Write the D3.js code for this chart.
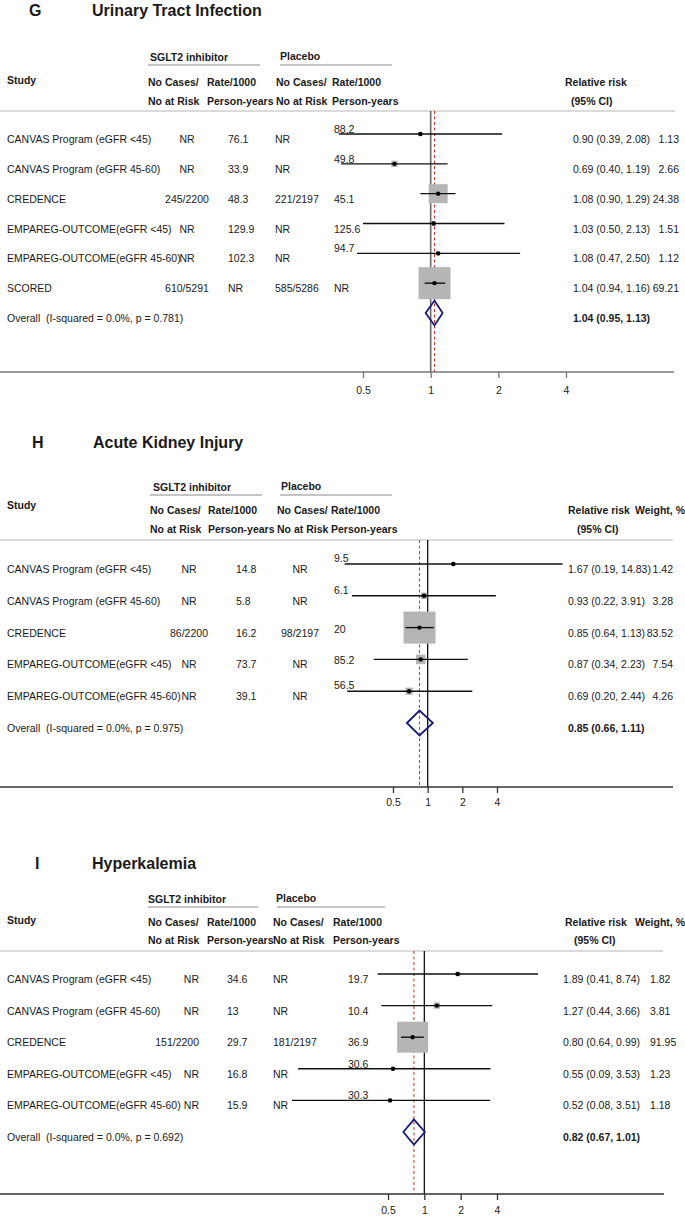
<!DOCTYPE html>
<html><head><meta charset="utf-8">
<script src="https://cdn.jsdelivr.net/npm/d3@7"></script>
<style>
html,body{margin:0;padding:0;background:#fff;}
svg text{font-family:"Liberation Sans",Arial,Helvetica,sans-serif;fill:#1a1a1a;white-space:pre;}
</style></head><body>
<svg id="chart" width="685" height="1217"></svg>
<script>
// ---------- DATA ----------
const tickValues = [0.5, 1, 2, 4];
const tickLabels = ["0.5", "1", "2", "4"];

const utiStudies = ["CANVAS Program (eGFR <45)", "CANVAS Program (eGFR 45-60)", "CREDENCE", "EMPAREG-OUTCOME(eGFR <45)", "EMPAREG-OUTCOME(eGFR 45-60)", "SCORED"];
const utiSglt2Cases = ["NR", "NR", "245/2200", "NR", "NR", "610/5291"];
const utiSglt2Rate = ["76.1", "33.9", "48.3", "129.9", "102.3", "NR"];
const utiPlaceboCases = ["NR", "NR", "221/2197", "NR", "NR", "585/5286"];
const utiPlaceboRate = ["88.2", "49.8", "45.1", "125.6", "94.7", "NR"];
const utiRR = [0.90, 0.69, 1.08, 1.03, 1.08, 1.04];
const utiLower = [0.39, 0.40, 0.90, 0.50, 0.47, 0.94];
const utiUpper = [2.08, 1.19, 1.29, 2.13, 2.50, 1.16];
const utiWeight = [1.13, 2.66, 24.38, 1.51, 1.12, 69.21];
const utiOverall = [1.04, 0.95, 1.13];
const utiHet = ["0.0%", "0.781"];

const akiStudies = ["CANVAS Program (eGFR <45)", "CANVAS Program (eGFR 45-60)", "CREDENCE", "EMPAREG-OUTCOME(eGFR <45)", "EMPAREG-OUTCOME(eGFR 45-60)"];
const akiSglt2Cases = ["NR", "NR", "86/2200", "NR", "NR"];
const akiSglt2Rate = ["14.8", "5.8", "16.2", "73.7", "39.1"];
const akiPlaceboCases = ["NR", "NR", "98/2197", "NR", "NR"];
const akiPlaceboRate = ["9.5", "6.1", "20", "85.2", "56.5"];
const akiRR = [1.67, 0.93, 0.85, 0.87, 0.69];
const akiLower = [0.19, 0.22, 0.64, 0.34, 0.20];
const akiUpper = [14.83, 3.91, 1.13, 2.23, 2.44];
const akiWeight = [1.42, 3.28, 83.52, 7.54, 4.26];
const akiOverall = [0.85, 0.66, 1.11];
const akiHet = ["0.0%", "0.975"];

const hypStudies = ["CANVAS Program (eGFR <45)", "CANVAS Program (eGFR 45-60)", "CREDENCE", "EMPAREG-OUTCOME(eGFR <45)", "EMPAREG-OUTCOME(eGFR 45-60)"];
const hypSglt2Cases = ["NR", "NR", "151/2200", "NR", "NR"];
const hypSglt2Rate = ["34.6", "13", "29.7", "16.8", "15.9"];
const hypPlaceboCases = ["NR", "NR", "181/2197", "NR", "NR"];
const hypPlaceboRate = ["19.7", "10.4", "36.9", "30.6", "30.3"];
const hypRR = [1.89, 1.27, 0.80, 0.55, 0.52];
const hypLower = [0.41, 0.44, 0.64, 0.09, 0.08];
const hypUpper = [8.74, 3.66, 0.99, 3.53, 3.51];
const hypWeight = [1.82, 3.81, 91.95, 1.23, 1.18];
const hypOverall = [0.82, 0.67, 1.01];
const hypHet = ["0.0%", "0.692"];

// ---------- LAYOUT ----------
const panels = [
  { letter: "G", title: "Urinary Tract Infection",
    studies: utiStudies, c1: utiSglt2Cases, c2: utiSglt2Rate, c3: utiPlaceboCases, c4: utiPlaceboRate,
    rr: utiRR, lo: utiLower, hi: utiUpper, w: utiWeight, overall: utiOverall, het: utiHet,
    L: { titleY: 16, letterX: 29, titleX: 92, lineY: 65, sgltX: 150, sgltLine: [148, 260], placX: 280, placLine: [280, 392],
         studyY: 84, h1Y: 86, h2Y: 105, headX: [148, 207, 276, 332], rrHeadX: 565, ciHeadX: 571, wHeadX: null,
         sepY: 111, sepX2: 675, firstY: 134, overallY: 313,
         col1: [187, "middle"], col2: [228, "start"], col3: [275, "start"], col4: [334, "start"], rrX: [573, "start"], wX: [679, "end"],
         shift: [-10, -10, 0, 0, -10, 0],
         range: [363, 566], axisY: 372, axisX2: 674, tickY: 394, refColor: "#6a6a6a", refW: 1.6, axisColor: "#777", boxMax: 32 } },
  { letter: "H", title: "Acute Kidney Injury",
    studies: akiStudies, c1: akiSglt2Cases, c2: akiSglt2Rate, c3: akiPlaceboCases, c4: akiPlaceboRate,
    rr: akiRR, lo: akiLower, hi: akiUpper, w: akiWeight, overall: akiOverall, het: akiHet,
    L: { titleY: 448, letterX: 32, titleX: 93, lineY: 495, sgltX: 153, sgltLine: [150, 262], placX: 281, placLine: [280, 392],
         studyY: 509, h1Y: 514, h2Y: 533, headX: [150, 208, 277, 331], rrHeadX: 568, ciHeadX: 577, wHeadX: 635,
         sepY: 540, sepX2: 673, firstY: 564, overallY: 723,
         col1: [189, "middle"], col2: [236, "start"], col3: [300, "middle"], col4: [334, "start"], rrX: [568, "start"], wX: [673, "end"],
         shift: [-11, -11, -4, -4, -11],
         range: [393, 497], axisY: 787, axisX2: 673, tickY: 806, refColor: "#111", refW: 1.3, axisColor: "#333", boxMax: 32 } },
  { letter: "I", title: "Hyperkalemia",
    studies: hypStudies, c1: hypSglt2Cases, c2: hypSglt2Rate, c3: hypPlaceboCases, c4: hypPlaceboRate,
    rr: hypRR, lo: hypLower, hi: hypUpper, w: hypWeight, overall: hypOverall, het: hypHet,
    L: { titleY: 869, letterX: 35, titleX: 92, lineY: 907, sgltX: 148, sgltLine: [148, 258], placX: 276, placLine: [277, 385],
         studyY: 924, h1Y: 926, h2Y: 944, headX: [148, 207, 273, 333], rrHeadX: 565, ciHeadX: 574, wHeadX: 635,
         sepY: 951, sepX2: 663, firstY: 974, overallY: 1132,
         col1: [199, "end"], col2: [227, "start"], col3: [273, "start"], col4: [348, "start"], rrX: [563, "start"], wX: [650, "start"],
         shift: [0, 0, 0, -10, -10],
         range: [388, 497], axisY: 1194, axisX2: 664, tickY: 1214, refColor: "#111", refW: 1.3, axisColor: "#333", boxMax: 31 } }
];

const svg = d3.select("#chart");
const FS = 10.5;

function txt(g, x, y, s, anchor, opts) {
  opts = opts || {};
  return g.append("text").attr("x", x).attr("y", y).attr("text-anchor", anchor || "start")
    .attr("font-size", opts.size || FS).attr("font-weight", opts.bold ? "bold" : "normal").text(s);
}

panels.forEach(p => {
  const L = p.L;
  const g = svg.append("g");
  const n = p.studies.length;
  const x = d3.scaleLog().domain([0.5, 4]).range(L.range);
  const y = d3.scaleLinear().domain([0, n]).range([L.firstY, L.overallY]);
  const maxW = d3.max(p.w);
  const side = d3.scaleSqrt().domain([0, maxW]).range([0, L.boxMax]);

  // titles
  txt(g, L.letterX, L.titleY, p.letter, "start", { size: 16, bold: true });
  txt(g, L.titleX, L.titleY, p.title, "start", { size: 16, bold: true });

  // group headers
  txt(g, L.sgltX, L.lineY - 4, "SGLT2 inhibitor", "start", { bold: true });
  txt(g, L.placX, L.lineY - 5, "Placebo", "start", { bold: true });
  g.append("line").attr("x1", L.sgltLine[0]).attr("x2", L.sgltLine[1]).attr("y1", L.lineY).attr("y2", L.lineY).attr("stroke", "#8a8a8a").attr("stroke-width", 1.2);
  g.append("line").attr("x1", L.placLine[0]).attr("x2", L.placLine[1]).attr("y1", L.lineY).attr("y2", L.lineY).attr("stroke", "#8a8a8a").attr("stroke-width", 1.2);

  txt(g, 7, L.studyY, "Study", "start", { bold: true });
  const h1 = ["No Cases/", "Rate/1000", "No Cases/", "Rate/1000"];
  const h2 = ["No at Risk", "Person-years", "No at Risk", "Person-years"];
  L.headX.forEach((hx, i) => {
    txt(g, hx, L.h1Y, h1[i], "start", { bold: true });
    txt(g, hx, L.h2Y, h2[i], "start", { bold: true });
  });
  txt(g, L.rrHeadX, L.h1Y, "Relative risk", "start", { bold: true });
  txt(g, L.ciHeadX, L.h2Y, "(95% CI)", "start", { bold: true });
  if (L.wHeadX) txt(g, L.wHeadX, L.h1Y, "Weight, %", "start", { bold: true });

  // separator
  g.append("line").attr("x1", 0).attr("x2", L.sepX2).attr("y1", L.sepY).attr("y2", L.sepY).attr("stroke", "#cfcfcf").attr("stroke-width", 1.5);

  // reference line at 1 and overall dashed line
  g.append("line").attr("x1", x(1)).attr("x2", x(1)).attr("y1", L.sepY).attr("y2", L.axisY).attr("stroke", L.refColor).attr("stroke-width", L.refW);
  g.append("line").attr("x1", x(p.overall[0])).attr("x2", x(p.overall[0])).attr("y1", L.sepY).attr("y2", L.axisY)
    .attr("stroke", "#c0392b").attr("stroke-width", 1).attr("stroke-dasharray", "3,2.5");

  // axis
  const axis = d3.axisBottom(x).tickValues(tickValues).tickFormat((d, i) => tickLabels[i]).tickSize(6).tickSizeOuter(0);
  const ag = g.append("g").attr("transform", `translate(0,${L.axisY})`).call(axis);
  ag.select(".domain").remove();
  ag.selectAll(".tick line").attr("stroke", L.axisColor).attr("stroke-width", 1.3);
  ag.selectAll(".tick text").attr("font-size", FS).attr("font-family", "Liberation Sans, Arial, sans-serif").attr("fill", "#1a1a1a")
    .attr("y", L.tickY - L.axisY).attr("dy", 0);
  g.append("line").attr("x1", 0).attr("x2", L.axisX2).attr("y1", L.axisY).attr("y2", L.axisY).attr("stroke", L.axisColor).attr("stroke-width", 1.5);

  // rows
  d3.range(n).forEach(i => {
    const yi = y(i);
    const tb = yi + 9;
    txt(g, 7, tb, p.studies[i], "start");
    txt(g, L.col1[0], tb, p.c1[i], L.col1[1]);
    txt(g, L.col2[0], tb, p.c2[i], L.col2[1]);
    txt(g, L.col3[0], tb, p.c3[i], L.col3[1]);
    txt(g, L.col4[0], tb + L.shift[i], p.c4[i], L.col4[1]);
    txt(g, L.rrX[0], tb, `${p.rr[i].toFixed(2)} (${p.lo[i].toFixed(2)}, ${p.hi[i].toFixed(2)})`, L.rrX[1]);
    txt(g, L.wX[0], tb, p.w[i].toFixed(2), L.wX[1]);
  });

  // boxes
  g.selectAll(".box").data(d3.range(n)).enter().append("rect")
    .attr("x", i => x(p.rr[i]) - side(p.w[i]) / 2).attr("y", i => y(i) - side(p.w[i]) / 2)
    .attr("width", i => side(p.w[i])).attr("height", i => side(p.w[i])).attr("fill", "#b5b5b5");
  // CI lines
  g.selectAll(".ci").data(d3.range(n)).enter().append("line")
    .attr("x1", i => x(p.lo[i])).attr("x2", i => x(p.hi[i])).attr("y1", i => y(i)).attr("y2", i => y(i))
    .attr("stroke", "#111").attr("stroke-width", 1.4);
  // points
  g.selectAll(".pt").data(d3.range(n)).enter().append("circle")
    .attr("cx", i => x(p.rr[i])).attr("cy", i => y(i)).attr("r", 2.2).attr("fill", "#000");

  // overall
  const oy = y(n);
  txt(g, 7, oy + 9, `Overall  (I-squared = ${p.het[0]}, p = ${p.het[1]})`, "start");
  txt(g, L.rrX[0], oy + 9, `${p.overall[0].toFixed(2)} (${p.overall[1].toFixed(2)}, ${p.overall[2].toFixed(2)})`, "start", { bold: true });
  const dh = 12.5;
  const pts = [[x(p.overall[1]), oy], [x(p.overall[0]), oy - dh], [x(p.overall[2]), oy], [x(p.overall[0]), oy + dh]];
  g.append("path").attr("d", d3.line()(pts) + "Z").attr("fill", "none").attr("stroke", "#1a1a7a").attr("stroke-width", 1.8);
});
</script>
</body></html>
